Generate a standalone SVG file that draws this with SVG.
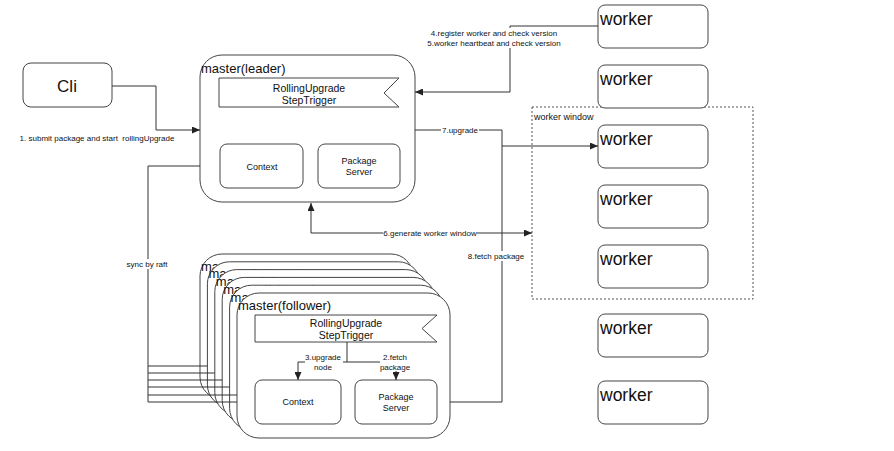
<svg xmlns="http://www.w3.org/2000/svg" width="894" height="451" viewBox="0 0 894 451">
<defs>
<style>
.box{fill:#fff;stroke:#444;stroke-width:1}
.ln{fill:none;stroke:#333;stroke-width:1}
.bg{fill:#fff}
text{font-family:"Liberation Sans",Arial,sans-serif;fill:#111}
.lbl{font-size:8px;text-anchor:middle}
.mid{text-anchor:middle}
.wk{font-size:17.5px}
.ms{font-size:13px}
.fl{font-size:10.5px;text-anchor:middle}
.sm{font-size:9px;text-anchor:middle}
</style>
<marker id="arr" viewBox="0 0 8 7" refX="8" refY="3.5" markerWidth="8" markerHeight="7" markerUnits="userSpaceOnUse" orient="auto-start-reverse">
<path d="M0,0 L8,3.5 L0,7 z" fill="#222"/>
</marker>
</defs>
<rect width="894" height="451" fill="#fff"/>

<g id="worker-window">
<rect x="532" y="107" width="221" height="192" fill="none" stroke="#555" stroke-dasharray="2,2"/>
<text x="534" y="120" style="font-size:9px">worker window</text>
</g>

<g id="cli">
<rect class="box" x="23" y="63" width="89" height="44" rx="8"/>
<text class="mid" x="67" y="92" style="font-size:17px">Cli</text>
</g>

<g id="master-leader">
<rect class="box" x="200" y="55" width="215" height="147" rx="22"/>
<text class="ms" x="201" y="73">master(leader)</text>
<polygon class="box" points="219,78 399,78 384,93 399,107 219,107"/>
<text class="fl" x="309" y="92">RollingUpgrade</text>
<text class="fl" x="309" y="104">StepTrigger</text>
<rect class="box" x="220" y="144" width="83" height="44" rx="7"/>
<text class="sm" x="262" y="170">Context</text>
<rect class="box" x="318" y="144" width="82" height="44" rx="7"/>
<text class="sm" x="359" y="164">Package</text>
<text class="sm" x="359" y="175">Server</text>
</g>

<g id="followers-back">
<rect class="box" x="200" y="254" width="213" height="145" rx="22"/>
<text class="ms" x="201" y="270.5">master(follower)</text>
<rect class="box" x="207.4" y="261.8" width="213" height="145" rx="22"/>
<text class="ms" x="208.4" y="278.3">master(follower)</text>
<rect class="box" x="214.8" y="269.6" width="213" height="145" rx="22"/>
<text class="ms" x="215.8" y="286.1">master(follower)</text>
<rect class="box" x="222.2" y="277.4" width="213" height="145" rx="22"/>
<text class="ms" x="223.2" y="293.9">master(follower)</text>
<rect class="box" x="229.6" y="285.2" width="213" height="145" rx="22"/>
<text class="ms" x="230.6" y="301.7">master(follower)</text>
</g>

<g id="master-follower">
<rect class="box" x="237" y="293" width="213" height="145" rx="22"/>
<text class="ms" x="238" y="309.5">master(follower)</text>
<polygon class="box" points="255,315 437,315 422,328.5 437,342 255,342"/>
<text class="fl" x="346" y="327">RollingUpgrade</text>
<text class="fl" x="346" y="339">StepTrigger</text>
<rect class="box" x="255" y="380" width="86" height="44" rx="7"/>
<text class="sm" x="298" y="405">Context</text>
<rect class="box" x="355" y="380" width="82" height="44" rx="7"/>
<text class="sm" x="396" y="400">Package</text>
<text class="sm" x="396" y="411">Server</text>
</g>

<g id="worker1"><rect class="box" x="598" y="5" width="110" height="43" rx="7"/><text class="wk" x="600" y="25">worker</text></g>
<g id="worker2"><rect class="box" x="598" y="65" width="110" height="43" rx="7"/><text class="wk" x="600" y="85">worker</text></g>
<g id="worker3"><rect class="box" x="598" y="125" width="110" height="43" rx="7"/><text class="wk" x="600" y="145">worker</text></g>
<g id="worker4"><rect class="box" x="598" y="185" width="110" height="43" rx="7"/><text class="wk" x="600" y="205">worker</text></g>
<g id="worker5"><rect class="box" x="598" y="245" width="110" height="43" rx="7"/><text class="wk" x="600" y="265">worker</text></g>
<g id="worker6"><rect class="box" x="598" y="314" width="110" height="43" rx="7"/><text class="wk" x="600" y="334">worker</text></g>
<g id="worker7"><rect class="box" x="598" y="381" width="110" height="43" rx="7"/><text class="wk" x="600" y="401">worker</text></g>

<g id="connectors">
<path class="ln" d="M112,86 H156 V130 H200" marker-end="url(#arr)"/>
<text class="lbl" x="97" y="141" style="white-space:pre">1. submit package and start  rollingUpgrade</text>

<path class="ln" d="M598,26 H510 V92 H415" marker-end="url(#arr)"/>
<rect class="bg" x="428" y="28" width="132" height="20"/>
<text class="lbl" x="494" y="36">4.register worker and check version</text>
<text class="lbl" x="494" y="46">5.worker heartbeat and check version</text>

<path class="ln" d="M415,130 H502 V146 H598" marker-end="url(#arr)"/>
<rect class="bg" x="441" y="125" width="38" height="10"/>
<text class="lbl" x="460" y="133">7.upgrade</text>

<path class="ln" d="M450,402 H502 V146"/>
<rect class="bg" x="467" y="251" width="58" height="10"/>
<text class="lbl" x="496" y="259">8.fetch package</text>

<path class="ln" d="M311,203 V233 H532" marker-start="url(#arr)" marker-end="url(#arr)"/>
<rect class="bg" x="383" y="228" width="94" height="10"/>
<text class="lbl" x="430" y="236">6.generate worker window</text>

<path class="ln" d="M200,166 H148 V402"/>
<path class="ln" d="M148,366 H207.4 M148,373 H214.8 M148,380 H222.2 M148,387 H229.6 M148,395 H237 M148,402 H237"/>
<rect class="bg" x="125" y="259" width="44" height="10"/>
<text class="lbl" x="147" y="267">sync by raft</text>

<path class="ln" d="M347,342 V362 H298 V380" marker-end="url(#arr)"/>
<path class="ln" d="M347,362 H396 V380" marker-end="url(#arr)"/>
<rect class="bg" x="305" y="352" width="38" height="19"/>
<text class="lbl" x="323" y="360">3.upgrade</text>
<text class="lbl" x="323" y="370">node</text>
<rect class="bg" x="380" y="352" width="31" height="19"/>
<text class="lbl" x="395" y="360">2.fetch</text>
<text class="lbl" x="395" y="370">package</text>
</g>
</svg>
